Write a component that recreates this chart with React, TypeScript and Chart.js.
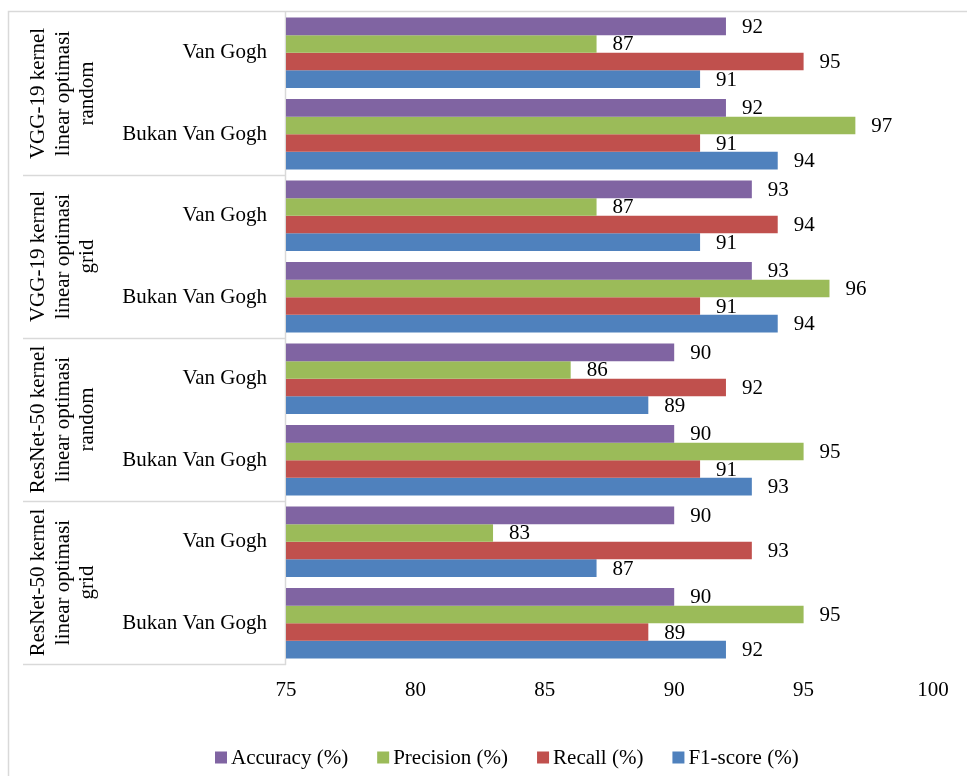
import React, { useEffect, useRef } from "react";
import { Chart, registerables } from "chart.js";

Chart.register(...registerables);

const groupLabels: string[][] = [
  ["VGG-19 kernel", "linear optimasi", "random"],
  ["VGG-19 kernel", "linear optimasi", "grid"],
  ["ResNet-50 kernel", "linear optimasi", "random"],
  ["ResNet-50 kernel", "linear optimasi", "grid"],
];
const categories: string[] = [
  "Van Gogh", "Bukan Van Gogh",
  "Van Gogh", "Bukan Van Gogh",
  "Van Gogh", "Bukan Van Gogh",
  "Van Gogh", "Bukan Van Gogh",
];

const accuracy = [92, 92, 93, 93, 90, 90, 90, 90];
const precision = [87, 97, 87, 96, 86, 95, 83, 95];
const recall = [95, 91, 94, 91, 92, 91, 93, 89];
const f1score = [91, 94, 91, 94, 89, 93, 87, 92];

const xTicks = [75, 80, 85, 90, 95, 100];

const seriesNames = ["Accuracy (%)", "Precision (%)", "Recall (%)", "F1-score (%)"];
const seriesColors = ["#8064A2", "#9BBB59", "#C0504D", "#4F81BD"];

const FONT = "'Liberation Serif', 'Times New Roman', serif";
const GRID = "#D9D9D9";

const decorPlugin = {
  id: "decor",
  beforeDatasetsDraw(chart: any) {
    const ctx = chart.ctx;
    const area = chart.chartArea;
    const y = chart.scales.y;
    ctx.save();
    ctx.strokeStyle = GRID;
    ctx.lineWidth = 1.5;
    // outer chart border (left/top visible)
    ctx.strokeRect(8.5, 11.5, 2000, 2000);
    // axis line
    ctx.beginPath();
    ctx.moveTo(285.5, area.top);
    ctx.lineTo(285.5, area.bottom + 1);
    ctx.stroke();
    // group separators
    const n = categories.length;
    for (let g = 1; g <= groupLabels.length; g++) {
      let yy: number;
      const last = g * 2 - 1;
      if (last + 1 < n) {
        yy = (y.getPixelForValue(last) + y.getPixelForValue(last + 1)) / 2;
      } else {
        yy = area.bottom;
      }
      ctx.beginPath();
      ctx.moveTo(23, Math.round(yy) + 0.5);
      ctx.lineTo(286, Math.round(yy) + 0.5);
      ctx.stroke();
    }
    // group labels (rotated)
    ctx.fillStyle = "#000";
    ctx.font = `21px ${FONT}`;
    ctx.textAlign = "center";
    ctx.textBaseline = "middle";
    groupLabels.forEach((lines, g) => {
      const cy = (y.getPixelForValue(g * 2) + y.getPixelForValue(g * 2 + 1)) / 2;
      ctx.save();
      ctx.translate(63, cy);
      ctx.rotate(-Math.PI / 2);
      lines.forEach((ln, i) => {
        ctx.fillText(ln, 0, (i - (lines.length - 1) / 2) * 24.5);
      });
      ctx.restore();
    });
    ctx.restore();
  },
  afterDatasetsDraw(chart: any) {
    const ctx = chart.ctx;
    ctx.save();
    ctx.fillStyle = "#000";
    ctx.font = `21px ${FONT}`;
    ctx.textAlign = "left";
    ctx.textBaseline = "middle";
    chart.data.datasets.forEach((ds: any, i: number) => {
      const meta = chart.getDatasetMeta(i);
      meta.data.forEach((bar: any, j: number) => {
        ctx.fillText(String(ds.data[j]), bar.x + 16, bar.y + 1);
      });
    });
    // legend
    ctx.font = `21px ${FONT}`;
    const box = 12;
    const gapText = 4;
    const gapItem = 29;
    const widths = chart.data.datasets.map((ds: any) => ctx.measureText(ds.label).width);
    let total = 0;
    widths.forEach((w: number, i: number) => {
      total += box + gapText + w + (i < widths.length - 1 ? gapItem : 0);
    });
    let x = Math.round(506.5 - total / 2);
    const ly = 757.5;
    chart.data.datasets.forEach((ds: any, i: number) => {
      ctx.fillStyle = ds.backgroundColor;
      ctx.fillRect(x, ly - box / 2, box, box);
      ctx.fillStyle = "#000";
      ctx.fillText(ds.label, x + box + gapText, ly + 0.5);
      x += box + gapText + widths[i] + gapItem;
    });
    ctx.restore();
  },
};

export default function App() {
  const ref = useRef<HTMLCanvasElement | null>(null);
  useEffect(() => {
    if (!ref.current) return;
    const seriesData = [accuracy, precision, recall, f1score];
    const chart = new Chart(ref.current, {
      type: "bar",
      data: {
        labels: categories,
        datasets: seriesData.map((d, i) => ({
          label: seriesNames[i],
          data: d,
          backgroundColor: seriesColors[i],
          borderWidth: 0,
          barPercentage: 1,
          categoryPercentage: 0.862,
        })),
      },
      options: {
        indexAxis: "y",
        animation: false,
        responsive: false,
        devicePixelRatio: 1,
        layout: { padding: { left: 0, top: 12, right: 34, bottom: 0 } },
        plugins: { legend: { display: false }, tooltip: { enabled: false } },
        scales: {
          x: {
            min: 75,
            max: 100,
            afterBuildTicks: (scale: any) => {
              scale.ticks = xTicks.map((v) => ({ value: v }));
            },
            afterFit: (scale: any) => {
              scale.height = 112;
              scale.paddingLeft = 0;
              scale.paddingRight = 0;
            },
            grid: { display: false, drawTicks: false },
            border: { display: false },
            ticks: {
              color: "#000",
              font: { family: FONT, size: 21 },
              padding: 14,
              maxRotation: 0,
            },
          },
          y: {
            afterFit: (scale: any) => {
              scale.width = 286;
              scale.paddingTop = 0;
              scale.paddingBottom = 0;
            },
            grid: { display: false, drawTicks: false },
            border: { display: false },
            ticks: {
              color: "#000",
              font: { family: FONT, size: 21 },
              padding: 19,
            },
          },
        },
      },
      plugins: [decorPlugin],
    } as any);
    return () => chart.destroy();
  }, []);
  return (
    <div style={{ position: "absolute", left: 0, top: 0, width: 967, height: 776, background: "#fff" }}>
      <canvas ref={ref} width={967} height={776} />
    </div>
  );
}
